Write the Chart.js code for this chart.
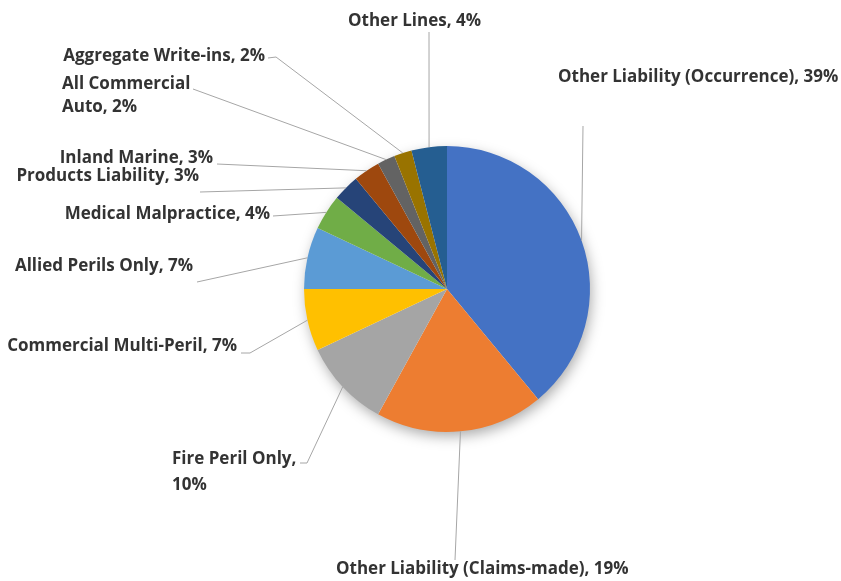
<!DOCTYPE html>
<html>
<head>
<meta charset="utf-8">
<script src="https://cdn.jsdelivr.net/npm/chart.js"></script>
<style>
body{margin:0;background:#fff;}
#wrap{width:841px;height:581px;}
</style>
</head>
<body>
<div id="wrap"><canvas id="lineChart" width="841" height="581"></canvas></div>
<script>

var categories=[
"Other Liability (Occurrence)",
"Other Liability (Claims-made)",
"Fire Peril Only",
"Commercial Multi-Peril",
"Allied Perils Only",
"Medical Malpractice",
"Products Liability",
"Inland Marine",
"All Commercial Auto",
"Aggregate Write-ins",
"Other Lines"
];

var shares=[39,19,10,7,7,4,3,3,2,2,4];

var sliceColors=[
"#4472C4","#ED7D31","#A5A5A5","#FFC000","#5B9BD5","#70AD47",
"#264478","#9E480E","#636363","#997300","#255E91"
];

/* label spots: text anchor, leader path from the label back toward the slice */
var spots=[
{x:558,y:77,align:"left",path:[[583,126]]},
{x:336,y:569,align:"left",path:[[455,560]]},
{x:172,y:459,align:"left",wrap:3,lh:26,path:[[307,463],[300,463]]},
{x:237,y:346,align:"right",path:[[250,353],[241,353]]},
{x:193,y:266,align:"right",path:[[197,282]]},
{x:270,y:214,align:"right",path:[[273,216]]},
{x:199,y:176,align:"right",path:[[200,192]]},
{x:213,y:158,align:"right",path:[[217,164]]},
{x:62,y:84,align:"left",wrap:2,lh:23,path:[[193,89]]},
{x:265,y:56,align:"right",path:[[276,57],[268,58]]},
{x:348,y:21,align:"left",path:[[429,32]]}
];

var pieShadow={
id:"pieShadow",
beforeDatasetsDraw:function(chart){
var arc=chart.getDatasetMeta(0).data[0];
var ctx=chart.ctx;
ctx.save();
ctx.shadowColor="rgba(0,0,0,0.35)";
ctx.shadowBlur=14;
ctx.shadowOffsetX=2;
ctx.shadowOffsetY=5;
ctx.fillStyle="#fff";
ctx.beginPath();
ctx.arc(arc.x,arc.y,arc.outerRadius-1,0,Math.PI*2);
ctx.fill();
ctx.restore();
}
};

var leaderLabels={
id:"leaderLabels",
afterDatasetsDraw:function(chart){
var ctx=chart.ctx;
var arcs=chart.getDatasetMeta(0).data;
ctx.save();
arcs.forEach(function(a,i){
var s=spots[i];
var mid=(a.startAngle+a.endAngle)/2;
var ex=a.x+Math.cos(mid)*a.outerRadius;
var ey=a.y+Math.sin(mid)*a.outerRadius;

ctx.strokeStyle="#a6a6a6";
ctx.lineWidth=1;
ctx.beginPath();
ctx.moveTo(ex,ey);
for(var k=0;k<s.path.length;k++){
ctx.lineTo(s.path[k][0],s.path[k][1]);
}
ctx.stroke();

var text=categories[i]+", "+shares[i]+"%";
var lines=[text];
if(s.wrap){
var words=text.split(" ");
lines=[words.slice(0,s.wrap).join(" "),words.slice(s.wrap).join(" ")];
}
ctx.fillStyle="#333333";
ctx.font="bold 17px 'Open Sans'";
ctx.textAlign=s.align;
ctx.textBaseline="middle";
lines.forEach(function(t,j){
ctx.fillText(t,s.x,s.y+j*(s.lh||24));
});
});
ctx.restore();
}
};

new Chart(document.getElementById("lineChart"),{

type:"pie",

data:{
labels:categories,
datasets:[{
data:shares,
backgroundColor:sliceColors,
borderWidth:0
}]
},

options:{
responsive:false,
animation:false,
layout:{
padding:{top:146,bottom:149,left:304,right:251}
},
plugins:{
legend:{display:false},
tooltip:{enabled:false}
}
},

plugins:[pieShadow,leaderLabels]

});

</script>
</body>
</html>
